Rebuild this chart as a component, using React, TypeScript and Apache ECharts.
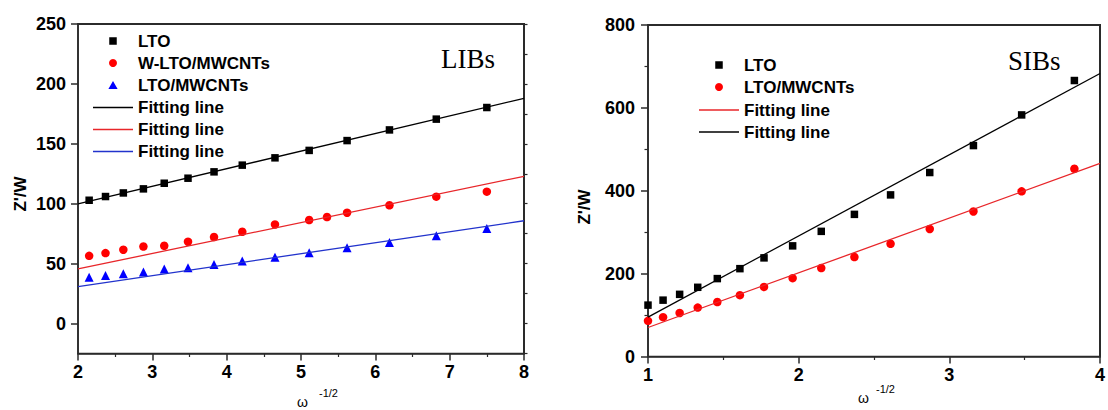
import React, { useEffect, useRef } from "react";
import * as echarts from "echarts";

// ---------- data (LIBs panel) ----------
const LIB_X = [2.15, 2.37, 2.61, 2.88, 3.16, 3.48, 3.83, 4.21, 4.65, 5.11, 5.62, 6.19, 6.82, 7.5];
const LIB_LTO = [102.9, 106, 109, 112.4, 117.1, 121.3, 126.6, 132.2, 138.3, 144.5, 152.7, 161.6, 170.6, 180.3];
const LIB_W_X = [2.15, 2.37, 2.61, 2.88, 3.16, 3.48, 3.83, 4.21, 4.65, 5.11, 5.35, 5.62, 6.19, 6.82, 7.5];
const LIB_W = [56.5, 58.8, 61.6, 64.3, 64.9, 68.3, 72.2, 76.6, 82.7, 86.4, 88.9, 92.5, 98.7, 105.9, 110.1];
const LIB_CNT = [38.7, 40, 41.5, 43.1, 45.6, 46.5, 49.2, 52.3, 55.4, 59, 63.2, 67.7, 73.3, 79.4];
const LIB_FIT_X = [2, 8];
const LIB_FIT_LTO = [99.8, 188];
const LIB_FIT_W = [45.6, 122.9];
const LIB_FIT_CNT = [30.8, 85.8];
const LIB_Y_MAJOR = [0, 50, 100, 150, 200, 250];

// ---------- data (SIBs panel) ----------
const SIB_X = [1.0, 1.1, 1.21, 1.33, 1.46, 1.61, 1.77, 1.96, 2.15, 2.37, 2.61, 2.87, 3.16, 3.48, 3.83];
const SIB_LTO = [124, 136, 150, 167, 188, 212, 238, 267, 302, 343, 390, 444, 509, 583, 666];
const SIB_CNT = [86, 95, 105, 118, 131.5, 148, 168, 189, 213.5, 240, 272, 307.7, 350, 398.6, 453];
const SIB_FIT_X = [1, 4];
const SIB_FIT_LTO = [95, 683];
const SIB_FIT_CNT = [70, 466];

const LEGEND_LABEL: Record<string, string> = {
  "L-LTO": "LTO",
  "L-W": "W-LTO/MWCNTs",
  "L-CNT": "LTO/MWCNTs",
  "L-fitK": "Fitting line",
  "L-fitR": "Fitting line",
  "L-fitB": "Fitting line",
  "S-LTO": "LTO",
  "S-CNT": "LTO/MWCNTs",
  "S-fitR": "Fitting line",
  "S-fitK": "Fitting line",
};

const zip = (xs: number[], ys: number[]) => xs.map((x, i) => [x, ys[i]]);

const SANS = "'Liberation Sans', Arial, sans-serif";
const SERIF = "'Liberation Serif', 'Times New Roman', serif";
const AXIS_COLOR = "#2b2b2b";
const RED = "#ff0000";
const BLUE = "#0000ff";
const FIT_RED = "#e8262a";
const FIT_BLUE = "#2233cc";

// legend icons drawn in a 40x8 box (corner points fix the bounding box so the mark stays centred)
const BOX = "M0,0L0.01,0L0,0.01ZM40,8L39.99,8L40,7.99Z";
const SQUARE_ICON = `path://${BOX}M16.25,0.25L23.75,0.25L23.75,7.75L16.25,7.75Z`;
const TRI_ICON = `path://${BOX}M20,0L24.6,8L15.4,8Z`;

const GRID_L = { left: 78, top: 24, width: 446, height: 329.5 };
const GRID_R = { left: 648, top: 25, width: 452, height: 331.5 };

export default function App() {
  const ref = useRef<HTMLDivElement>(null);

  useEffect(() => {
    if (!ref.current) return;
    const chart = echarts.init(ref.current, undefined, { renderer: "svg" });

    const axisLine = { show: true, onZero: false, lineStyle: { color: AXIS_COLOR, width: 1.6 } };
    const tickLabel = { color: "#000", fontSize: 18, fontWeight: "bold" as const, fontFamily: SANS };

    const xAxisBase = (gridIndex: number, min: number, max: number) => ({
      type: "value",
      gridIndex,
      min,
      max,
      interval: 1,
      axisLine,
      axisTick: { show: true, inside: false, length: 7, lineStyle: { color: AXIS_COLOR, width: 1.5 } },
      minorTick: { show: true, splitNumber: 2, length: 3.5, lineStyle: { color: AXIS_COLOR, width: 1.2 } },
      axisLabel: { ...tickLabel, margin: 9, showMinLabel: true, showMaxLabel: true },
      splitLine: { show: false },
    });

    // plain axis lines that close each plot box on the top and right
    const frameAxis = (gridIndex: number, position: string, min: number, max: number) => ({
      type: "value",
      gridIndex,
      position,
      min,
      max,
      axisLine: { show: true, onZero: false, lineStyle: { color: AXIS_COLOR, width: 1.8 } },
      axisTick: { show: false },
      minorTick: { show: false },
      axisLabel: { show: false },
      splitLine: { show: false },
    });

    // graphic edges (same geometry as the grids) as a fallback for the box outline
    const edges = (g: { left: number; top: number; width: number; height: number }) => ({
      type: "polyline",
      shape: {
        points: [
          [g.left, g.top],
          [g.left + g.width, g.top],
          [g.left + g.width, g.top + g.height],
        ],
      },
      style: { stroke: AXIS_COLOR, lineWidth: 1.8, fill: null },
    });

    const legendText = { color: "#000", fontSize: 17, fontWeight: "bold" as const, fontFamily: SANS };
    const legendCommon = {
      orient: "vertical",
      itemWidth: 40,
      itemGap: 5,
      selectedMode: false,
      padding: 0,
      textStyle: legendText,
      formatter: (name: string) => LEGEND_LABEL[name] ?? name,
    };
    const lineItem = (name: string, color: string) => ({ name, icon: "rect", itemStyle: { color } });

    const option: any = {
      animation: false,
      grid: [
        { ...GRID_L, show: true, borderColor: AXIS_COLOR, borderWidth: 1.6 },
        { ...GRID_R, show: true, borderColor: AXIS_COLOR, borderWidth: 1.6 },
      ],
      xAxis: [
        xAxisBase(0, 2, 8),
        xAxisBase(1, 1, 4),
        frameAxis(0, "top", 2, 8),
        frameAxis(1, "top", 1, 4),
      ],
      yAxis: [
        {
          type: "value",
          gridIndex: 0,
          min: -25,
          max: 250,
          interval: 25,
          axisLine,
          axisTick: { show: true, inside: false, length: 7, customValues: LIB_Y_MAJOR, lineStyle: { color: AXIS_COLOR, width: 1.5 } },
          axisLabel: { ...tickLabel, margin: 12, customValues: LIB_Y_MAJOR },
          splitLine: { show: false },
        },
        {
          type: "value",
          gridIndex: 0,
          min: -25,
          max: 250,
          interval: 25,
          axisLine: { show: false },
          axisTick: { show: true, inside: false, length: 3.5, lineStyle: { color: AXIS_COLOR, width: 1.2 } },
          axisLabel: { show: false },
          splitLine: { show: false },
        },
        {
          type: "value",
          gridIndex: 1,
          min: 0,
          max: 800,
          interval: 200,
          axisLine,
          axisTick: { show: true, inside: false, length: 7, lineStyle: { color: AXIS_COLOR, width: 1.5 } },
          minorTick: { show: true, splitNumber: 2, length: 3.5, lineStyle: { color: AXIS_COLOR, width: 1.2 } },
          axisLabel: { ...tickLabel, margin: 13, showMinLabel: true, showMaxLabel: true },
          splitLine: { show: false },
        },
        frameAxis(0, "right", -25, 250),
        frameAxis(1, "right", 0, 800),
      ],
      legend: [
        {
          ...legendCommon, left: 93, top: 32.5, itemHeight: 8,
          data: [
            { name: "L-LTO", icon: SQUARE_ICON },
            { name: "L-W", icon: "circle" },
            { name: "L-CNT", icon: TRI_ICON },
          ],
        },
        {
          ...legendCommon, left: 93, top: 99, itemHeight: 1.5,
          data: [lineItem("L-fitK", "#000"), lineItem("L-fitR", FIT_RED), lineItem("L-fitB", FIT_BLUE)],
        },
        {
          ...legendCommon, left: 699, top: 56.5, itemHeight: 8,
          data: [
            { name: "S-LTO", icon: SQUARE_ICON },
            { name: "S-CNT", icon: "circle" },
          ],
        },
        {
          ...legendCommon, left: 699, top: 101.5, itemHeight: 1.5,
          data: [lineItem("S-fitR", FIT_RED), lineItem("S-fitK", "#000")],
        },
      ],
      series: [
        // LIBs fitting lines
        { name: "L-fitK", type: "line", xAxisIndex: 0, yAxisIndex: 0, data: zip(LIB_FIT_X, LIB_FIT_LTO), symbol: "none", lineStyle: { color: "#000", width: 1.3 }, itemStyle: { color: "#000" } },
        { name: "L-fitR", type: "line", xAxisIndex: 0, yAxisIndex: 0, data: zip(LIB_FIT_X, LIB_FIT_W), symbol: "none", lineStyle: { color: FIT_RED, width: 1.3 }, itemStyle: { color: FIT_RED } },
        { name: "L-fitB", type: "line", xAxisIndex: 0, yAxisIndex: 0, data: zip(LIB_FIT_X, LIB_FIT_CNT), symbol: "none", lineStyle: { color: FIT_BLUE, width: 1.3 }, itemStyle: { color: FIT_BLUE } },
        // LIBs scatter
        { name: "L-LTO", type: "scatter", xAxisIndex: 0, yAxisIndex: 0, data: zip(LIB_X, LIB_LTO), symbol: "rect", symbolSize: 7.5, itemStyle: { color: "#000", opacity: 1 } },
        { name: "L-W", type: "scatter", xAxisIndex: 0, yAxisIndex: 0, data: zip(LIB_W_X, LIB_W), symbol: "circle", symbolSize: 8.5, itemStyle: { color: RED, opacity: 1 } },
        { name: "L-CNT", type: "scatter", xAxisIndex: 0, yAxisIndex: 0, data: zip(LIB_X, LIB_CNT), symbol: "triangle", symbolSize: 9, itemStyle: { color: BLUE, opacity: 1 } },
        // SIBs fitting lines
        { name: "S-fitR", type: "line", xAxisIndex: 1, yAxisIndex: 2, data: zip(SIB_FIT_X, SIB_FIT_CNT), symbol: "none", lineStyle: { color: FIT_RED, width: 1.3 }, itemStyle: { color: FIT_RED } },
        { name: "S-fitK", type: "line", xAxisIndex: 1, yAxisIndex: 2, data: zip(SIB_FIT_X, SIB_FIT_LTO), symbol: "none", lineStyle: { color: "#000", width: 1.3 }, itemStyle: { color: "#000" } },
        // SIBs scatter
        { name: "S-LTO", type: "scatter", xAxisIndex: 1, yAxisIndex: 2, data: zip(SIB_X, SIB_LTO), symbol: "rect", symbolSize: 7.5, itemStyle: { color: "#000", opacity: 1 } },
        { name: "S-CNT", type: "scatter", xAxisIndex: 1, yAxisIndex: 2, data: zip(SIB_X, SIB_CNT), symbol: "circle", symbolSize: 8.5, itemStyle: { color: RED, opacity: 1 } },
      ],
      graphic: [
        edges(GRID_L),
        edges(GRID_R),
        { type: "text", x: 20.5, y: 194, rotation: Math.PI / 2, style: { text: "Z'/W", fill: "#000", font: `bold 17px ${SANS}`, align: "center", verticalAlign: "middle" } },
        { type: "text", x: 584, y: 207, rotation: Math.PI / 2, style: { text: "Z'/W", fill: "#000", font: `bold 17px ${SANS}`, align: "center", verticalAlign: "middle" } },
        { type: "text", x: 297, y: 402, style: { text: "ω", fill: "#000", font: `14px ${SANS}`, align: "left", verticalAlign: "middle" } },
        { type: "text", x: 319, y: 393, style: { text: "-1/2", fill: "#000", font: `11px ${SANS}`, align: "left", verticalAlign: "middle" } },
        { type: "text", x: 858, y: 397.5, style: { text: "ω", fill: "#000", font: `14px ${SANS}`, align: "left", verticalAlign: "middle" } },
        { type: "text", x: 876, y: 389, style: { text: "-1/2", fill: "#000", font: `11px ${SANS}`, align: "left", verticalAlign: "middle" } },
        { type: "text", x: 441, y: 59, style: { text: "LIBs", fill: "#000", font: `27px ${SERIF}`, align: "left", verticalAlign: "middle" } },
        { type: "text", x: 1008, y: 61, style: { text: "SIBs", fill: "#000", font: `27px ${SERIF}`, align: "left", verticalAlign: "middle" } },
      ],
    };

    chart.setOption(option);
    return () => chart.dispose();
  }, []);

  return (
    <div
      ref={ref}
      style={{ position: "fixed", left: 0, top: 0, width: 1108, height: 410, background: "#fff" }}
    />
  );
}
